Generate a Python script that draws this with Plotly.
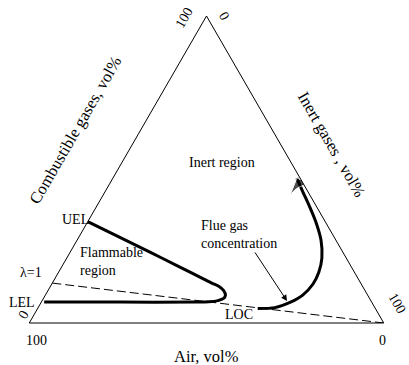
import plotly.graph_objects as go

# Ternary compositions (vol%): combustible (a), inert (c); air = 100 - a - c
# Flammable region boundary (UEL -> nose -> LEL)
flam_comb = [33.0, 23.1, 18.2, 14.3, 13.0, 11.9, 10.6, 9.1, 8.0, 7.3, 6.9, 6.8, 6.8, 6.8]
flam_inert = [0.0, 22.5, 33.4, 42.1, 45.0, 47.6, 49.5, 50.8, 50.8, 49.6, 47.2, 43.4, 22.2, 0.8]

# Flue gas concentration path (ends with arrow)
flue_comb = [4.7, 5.0, 6.7, 9.1, 12.7, 16.6, 21.1, 27.0, 32.9, 38.4, 43.3, 47.2]
flue_inert = [62.1, 66.8, 70.2, 72.6, 73.7, 73.4, 72.0, 68.8, 64.4, 59.7, 55.3, 51.9]

# Stoichiometric line lambda=1 (to pure inert vertex)
stoich_comb = [13.0, 0.0]
stoich_inert = [0.0, 100.0]


def air(a, c):
    return [100 - x - y for x, y in zip(a, c)]


FONT = "Liberation Serif"

fig = go.Figure()
fig.add_trace(go.Scatterternary(
    a=stoich_comb, b=air(stoich_comb, stoich_inert), c=stoich_inert,
    mode="lines", line=dict(color="black", width=1, dash="9px,4px"),
    hoverinfo="skip", showlegend=False))
fig.add_trace(go.Scatterternary(
    a=flam_comb, b=air(flam_comb, flam_inert), c=flam_inert,
    mode="lines", line=dict(color="black", width=3, shape="spline", smoothing=0.8),
    hoverinfo="skip", showlegend=False))
fig.add_trace(go.Scatterternary(
    a=flue_comb, b=air(flue_comb, flue_inert), c=flue_inert,
    mode="lines+markers", line=dict(color="black", width=3, shape="spline", smoothing=0.8),
    marker=dict(size=[0] * (len(flue_comb) - 1) + [22], symbol="arrow-wide",
                angleref="previous", color="black"),
    hoverinfo="skip", showlegend=False))

ax_style = dict(showticklabels=False, ticks="", showgrid=False,
                linecolor="black", linewidth=1, title=dict(text=""))

fig.update_layout(
    width=409, height=365,
    margin=dict(l=29, r=25, t=16, b=42),
    paper_bgcolor="white",
    font=dict(family=FONT, color="black", size=14),
    ternary=dict(sum=100, bgcolor="white",
                 domain=dict(x=[0, 1], y=[0, 1]),
                 aaxis=ax_style, baxis=ax_style, caxis=ax_style),
)

def ann(text, x, y, size=14, angle=0, xanchor="center", align="center"):
    fig.add_annotation(text=text, x=x, y=y, xref="paper", yref="paper",
                       showarrow=False, textangle=angle, xanchor=xanchor,
                       yanchor="middle", align=align,
                       font=dict(family=FONT, size=size, color="black"))

ann("Combustible gases, vol%", 0.1324, 0.6287, size=16.5, angle=-60)
ann("Inert gases , vol%", 0.8535, 0.583, size=16.5, angle=60)
ann("Air, vol%", 0.5, -0.109, size=16.5)
ann("100", 0.0225, -0.0554)
ann("0", 0.997, -0.0586)
ann("0", -0.0169, 0.026, angle=-60)
ann("100", 1.0366, 0.0619, angle=60)
ann("100", 0.4366, 0.9967, angle=-60)
ann("0", 0.5493, 1.0016, angle=60)
ann("UEL", 0.1296, 0.3371)
ann("λ=1", 0.0056, 0.1629)
ann("LEL", -0.0197, 0.0684)
ann("Flammable<br>region", 0.1380, 0.1987, xanchor="left", align="left")
ann("Inert region", 0.5437, 0.5212)
ann("Flue gas<br>concentration", 0.4790, 0.2899, xanchor="left", align="left")
ann("LOC", 0.5915, 0.0293)

fig.add_annotation(text="", x=0.7268, y=0.0717, xref="paper", yref="paper",
                   showarrow=True, ax=-33, ay=-50, arrowhead=2, arrowsize=1.2,
                   arrowwidth=1, arrowcolor="black")

fig.write_html("out.html", config={"displayModeBar": False},
               post_script="document.body.style.margin='0';")
